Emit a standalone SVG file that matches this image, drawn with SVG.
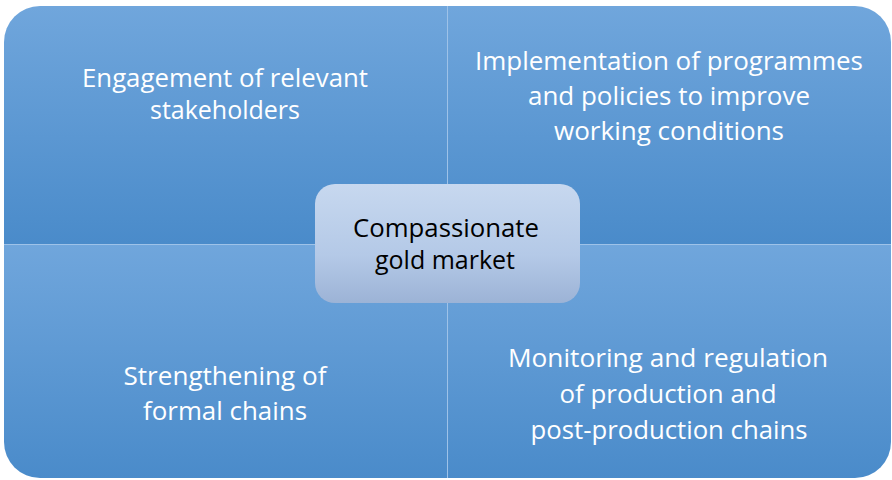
<svg xmlns="http://www.w3.org/2000/svg" width="892" height="480" viewBox="0 0 892 480">
  <style>
    .q { fill: url(#qgrad); }
    .qt { font-family: "Open Sans", "Liberation Sans", sans-serif; font-size: 25px; fill: #ffffff; text-anchor: middle; }
    .ct { font-family: "Open Sans", "Liberation Sans", sans-serif; font-size: 25px; fill: #000000; text-anchor: middle; }
    .div { stroke: #9ec2e8; stroke-width: 1; fill: none; }
  </style>
  <defs>
    <linearGradient id="qgrad" x1="0" y1="0" x2="0" y2="1">
      <stop offset="0" stop-color="#70a6dc"/>
      <stop offset="1" stop-color="#4a8bca"/>
    </linearGradient>
    <linearGradient id="cgrad" x1="0" y1="0" x2="0" y2="1">
      <stop offset="0" stop-color="#c7d8ef"/>
      <stop offset="0.6" stop-color="#b4c9e7"/>
      <stop offset="1" stop-color="#9cb3d6"/>
    </linearGradient>
  </defs>
  <rect width="892" height="480" fill="#ffffff"/>

  <g id="quadrant-top-left">
    <path class="q" d="M4,244 V42 A36,36 0 0 1 40,6 H447 V244 Z"/>
    <text class="qt" x="225" y="87" textLength="286" lengthAdjust="spacingAndGlyphs">Engagement of relevant</text>
    <text class="qt" x="225" y="119" textLength="150" lengthAdjust="spacingAndGlyphs">stakeholders</text>
  </g>
  <g id="quadrant-top-right">
    <path class="q" d="M447,244 V6 H855 A36,36 0 0 1 891,42 V244 Z"/>
    <text class="qt" x="669" y="70" textLength="388" lengthAdjust="spacingAndGlyphs">Implementation of programmes</text>
    <text class="qt" x="669" y="105" textLength="282" lengthAdjust="spacingAndGlyphs">and policies to improve</text>
    <text class="qt" x="669" y="140" textLength="230" lengthAdjust="spacingAndGlyphs">working conditions</text>
  </g>
  <g id="quadrant-bottom-left">
    <path class="q" d="M4,244 H447 V478 H40 A36,36 0 0 1 4,442 Z"/>
    <text class="qt" x="225" y="385" textLength="203" lengthAdjust="spacingAndGlyphs">Strengthening of</text>
    <text class="qt" x="225" y="420" textLength="164" lengthAdjust="spacingAndGlyphs">formal chains</text>
  </g>
  <g id="quadrant-bottom-right">
    <path class="q" d="M447,244 H891 V442 A36,36 0 0 1 855,478 H447 Z"/>
    <text class="qt" x="668" y="367" textLength="320" lengthAdjust="spacingAndGlyphs">Monitoring and regulation</text>
    <text class="qt" x="668" y="403" textLength="217" lengthAdjust="spacingAndGlyphs">of production and</text>
    <text class="qt" x="669" y="439" textLength="277" lengthAdjust="spacingAndGlyphs">post-production chains</text>
  </g>

  <g id="dividers">
    <line class="div" x1="447.5" y1="6" x2="447.5" y2="478"/>
    <line class="div" x1="4" y1="244.5" x2="891" y2="244.5"/>
  </g>

  <g id="center">
    <rect x="315" y="184" width="265" height="119" rx="20" ry="20" fill="url(#cgrad)"/>
    <text class="ct" x="446" y="237" textLength="186" lengthAdjust="spacingAndGlyphs">Compassionate</text>
    <text class="ct" x="445" y="269" textLength="140" lengthAdjust="spacingAndGlyphs">gold market</text>
  </g>
</svg>
